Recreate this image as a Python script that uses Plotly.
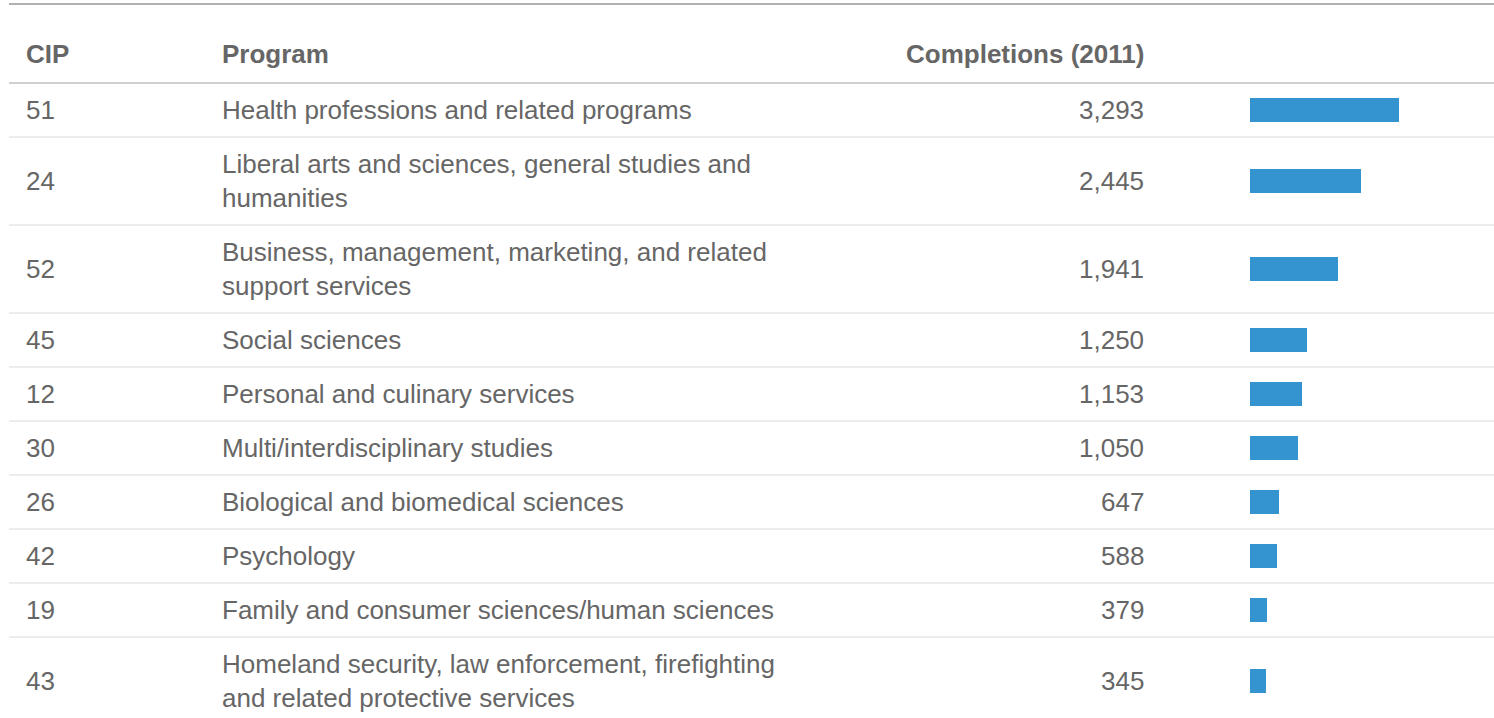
import plotly.graph_objects as go

# table data
cip = ["51", "24", "52", "45", "12", "30", "26", "42", "19", "43"]
program = [
    "Health professions and related programs",
    "Liberal arts and sciences, general studies and<br>humanities",
    "Business, management, marketing, and related<br>support services",
    "Social sciences",
    "Personal and culinary services",
    "Multi/interdisciplinary studies",
    "Biological and biomedical sciences",
    "Psychology",
    "Family and consumer sciences/human sciences",
    "Homeland security, law enforcement, firefighting<br>and related protective services",
]
completions = [3293, 2445, 1941, 1250, 1153, 1050, 647, 588, 379, 345]
headers = ["CIP", "Program", "Completions (2011)"]

W, H = 1494, 718
FONT = "Liberation Sans, Arial, Helvetica, sans-serif"
TXT = "#666666"
BAR = "#3494d0"

# row layout (pixel units, y grows downward)
header_line = 83
single_h, double_h = 54, 88
tops, mids, bottoms = [], [], []
y = header_line
for p in program:
    h = double_h if "<br>" in p else single_h
    tops.append(y)
    mids.append(y + h / 2)
    y += h
    bottoms.append(y)

col_cip, col_prog, col_num, col_bar = 24, 220, 1146, 1250
bar_px_per_unit = 149 / 3293

fig = go.Figure()

fig.add_trace(go.Bar(
    x=completions, y=mids, orientation="h",
    width=24, marker=dict(color=BAR, line=dict(width=0)),
    xaxis="x2", yaxis="y", hoverinfo="skip", showlegend=False,
))

ann = []
for c, p, v, m in zip(cip, program, completions, mids):
    ann.append(dict(x=col_cip, y=m, text=c, xanchor="left"))
    ann.append(dict(x=col_prog, y=m, text=p, xanchor="left", align="left"))
    ann.append(dict(x=col_num, y=m, text=f"{v:,}", xanchor="right", align="right"))
for i, (h, xx) in enumerate(zip(headers, [col_cip, col_prog, col_num])):
    ann.append(dict(x=xx, y=54, text=f"<b>{h}</b>",
                    xanchor="right" if i == 2 else "left"))
for a in ann:
    a.update(xref="x", yref="y", yanchor="middle", showarrow=False,
             font=dict(family=FONT, size=26, color=TXT))

shapes = [
    dict(type="line", xref="x", yref="y", x0=9, x1=W, y0=4, y1=4,
         line=dict(color="#b0b0b0", width=2)),
    dict(type="line", xref="x", yref="y", x0=9, x1=W, y0=header_line, y1=header_line,
         line=dict(color="#d0d0d0", width=2)),
]
for b in bottoms[:-1]:
    shapes.append(dict(type="line", xref="x", yref="y", x0=9, x1=W, y0=b, y1=b,
                       line=dict(color="#ececec", width=2)))

fig.update_layout(
    width=W, height=H,
    margin=dict(l=0, r=0, t=0, b=0),
    paper_bgcolor="white", plot_bgcolor="white",
    xaxis=dict(range=[0, W], visible=False, fixedrange=True),
    xaxis2=dict(domain=[col_bar / W, 1], range=[0, (W - col_bar) / bar_px_per_unit],
                visible=False, anchor="y", fixedrange=True),
    yaxis=dict(range=[H, 0], visible=False, fixedrange=True),
    annotations=ann, shapes=shapes,
    bargap=0,
)

# page body has an 8px default margin; drop it so the figure sits at 0,0
fig.write_html("out.html", config={"displayModeBar": False},
               post_script="document.body.style.margin='0';document.body.style.overflow='hidden';")
